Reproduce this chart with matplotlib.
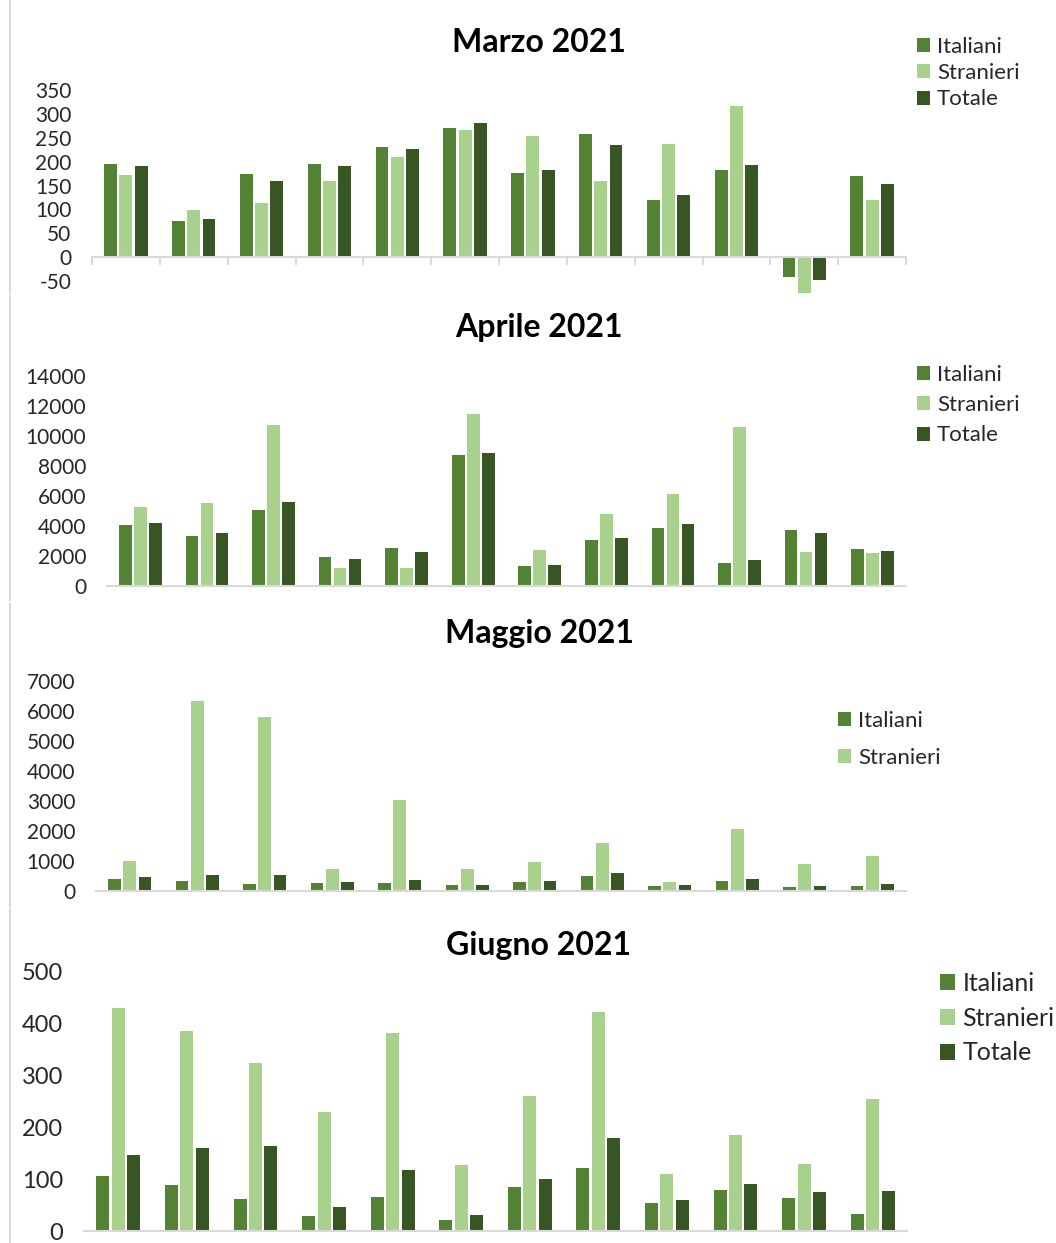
import matplotlib
matplotlib.use("Agg")
import matplotlib.pyplot as plt
from matplotlib.lines import Line2D
import numpy as np

plt.rcParams['font.family'] = ['Lato', 'DejaVu Sans']

W, H = 1056, 1243

series = ["Italiani", "Stranieri", "Totale"]
colors = ["#548235", "#A9D18E", "#375623"]

marzo_ita = [195, 76, 175, 195, 230, 270, 177, 257, 119, 183, -41, 170]
marzo_str = [172, 99, 114, 159, 210, 267, 253, 159, 237, 317, -75, 119]
marzo_tot = [190, 79, 159, 190, 227, 281, 183, 235, 130, 192, -48, 153]

aprile_ita = [4050, 3330, 5040, 1910, 2560, 8710, 1360, 3070, 3840, 1510, 3760, 2490]
aprile_str = [5240, 5530, 10710, 1200, 1200, 11470, 2400, 4820, 6110, 10620, 2270, 2200]
aprile_tot = [4200, 3530, 5600, 1780, 2270, 8840, 1420, 3200, 4110, 1710, 3530, 2330]

maggio_ita = [400, 333, 233, 256, 256, 189, 300, 511, 156, 333, 122, 156]
maggio_str = [1000, 6322, 5789, 722, 3033, 722, 967, 1600, 300, 2067, 900, 1178]
maggio_tot = [478, 544, 544, 300, 367, 189, 333, 611, 189, 400, 156, 233]

giugno_ita = [106, 88, 61, 29, 66, 22, 84, 122, 53, 79, 63, 33]
giugno_str = [429, 385, 323, 229, 380, 127, 259, 422, 109, 184, 128, 254]
giugno_tot = [146, 159, 164, 47, 118, 31, 100, 178, 59, 91, 75, 77]

marzo_ticks = [-50, 0, 50, 100, 150, 200, 250, 300, 350]
aprile_ticks = [0, 2000, 4000, 6000, 8000, 10000, 12000, 14000]
maggio_ticks = [0, 1000, 2000, 3000, 4000, 5000, 6000, 7000]
giugno_ticks = [0, 100, 200, 300, 400, 500]

fig = plt.figure(figsize=(W / 100, H / 100), dpi=100)


def rect(x0, x1, yt, yb):
    return [x0 / W, 1 - yb / H, (x1 - x0) / W, (yb - yt) / H]


def panel(r, data, ylim, ticks, title, title_y, tick_fs, leg_xy, leg_fs,
          leg_space, leg_n=3, xticks=False):
    ax = fig.add_axes(r)
    n = len(data[0])
    x = np.arange(n)
    offs = [-0.225, 0.0, 0.225]
    bars = []
    for vals, c, o, lab in zip(data, colors, offs, series):
        b = ax.bar(x + o, vals, width=0.19, color=c, label=lab, zorder=2)
        bars.append(b)
    ax.set_xlim(-0.5, n - 0.5)
    ax.set_ylim(*ylim)
    ax.set_yticks(ticks)
    ax.set_yticklabels([str(t) for t in ticks], fontsize=tick_fs, color="#262626")
    ax.tick_params(axis='y', length=0, pad=15)
    for s in ["top", "right", "left"]:
        ax.spines[s].set_visible(False)
    ax.spines["bottom"].set_color("#D9D9D9")
    ax.spines["bottom"].set_linewidth(1.5)
    ax.spines["bottom"].set_position(("data", 0))
    if xticks:
        ax.set_xticks(np.arange(-0.5, n, 1.0))
        ax.tick_params(axis='x', length=6, width=1.5, color="#D9D9D9",
                       labelbottom=False, direction='out')
    else:
        ax.set_xticks([])
    ax.patch.set_alpha(0)
    fig.text(539 / W, 1 - title_y / H, title, ha='center', va='center',
             fontsize=23, fontweight='bold', color="#000000")
    fig.legend(bars[:leg_n], series[:leg_n], loc='upper left',
               bbox_to_anchor=(leg_xy[0] / W, 1 - leg_xy[1] / H),
               frameon=False, fontsize=leg_fs, handlelength=0.6,
               handleheight=0.6, handletextpad=0.3, labelspacing=leg_space,
               borderaxespad=0, borderpad=0, labelcolor="#262626")
    return ax


panel(rect(92, 906, 90, 293), [marzo_ita, marzo_str, marzo_tot], (-75, 350),
      marzo_ticks, "Marzo 2021", 42, 15, (917, 37), 16, 0.28, xticks=True)
panel(rect(107, 906, 376, 586), [aprile_ita, aprile_str, aprile_tot], (0, 14000),
      aprile_ticks, "Aprile 2021", 328, 15, (917, 365), 16, 0.46)
panel(rect(96, 906, 681, 891), [maggio_ita, maggio_str, maggio_tot], (0, 7000),
      maggio_ticks, "Maggio 2021", 633, 15, (838, 711), 16, 0.77, leg_n=2)
panel(rect(84, 907, 971, 1231), [giugno_ita, giugno_str, giugno_tot], (0, 500),
      giugno_ticks, "Giugno 2021", 946, 17, (940, 972), 18, 0.47)

for y0, y1 in [(0, 293), (296, 600), (604, 906), (909, 1243)]:
    fig.add_artist(Line2D([10 / W, 10 / W], [1 - y0 / H, 1 - y1 / H],
                          color="#D9D9D9", linewidth=1.5))

fig.savefig("out.png", dpi=100, facecolor="white")
